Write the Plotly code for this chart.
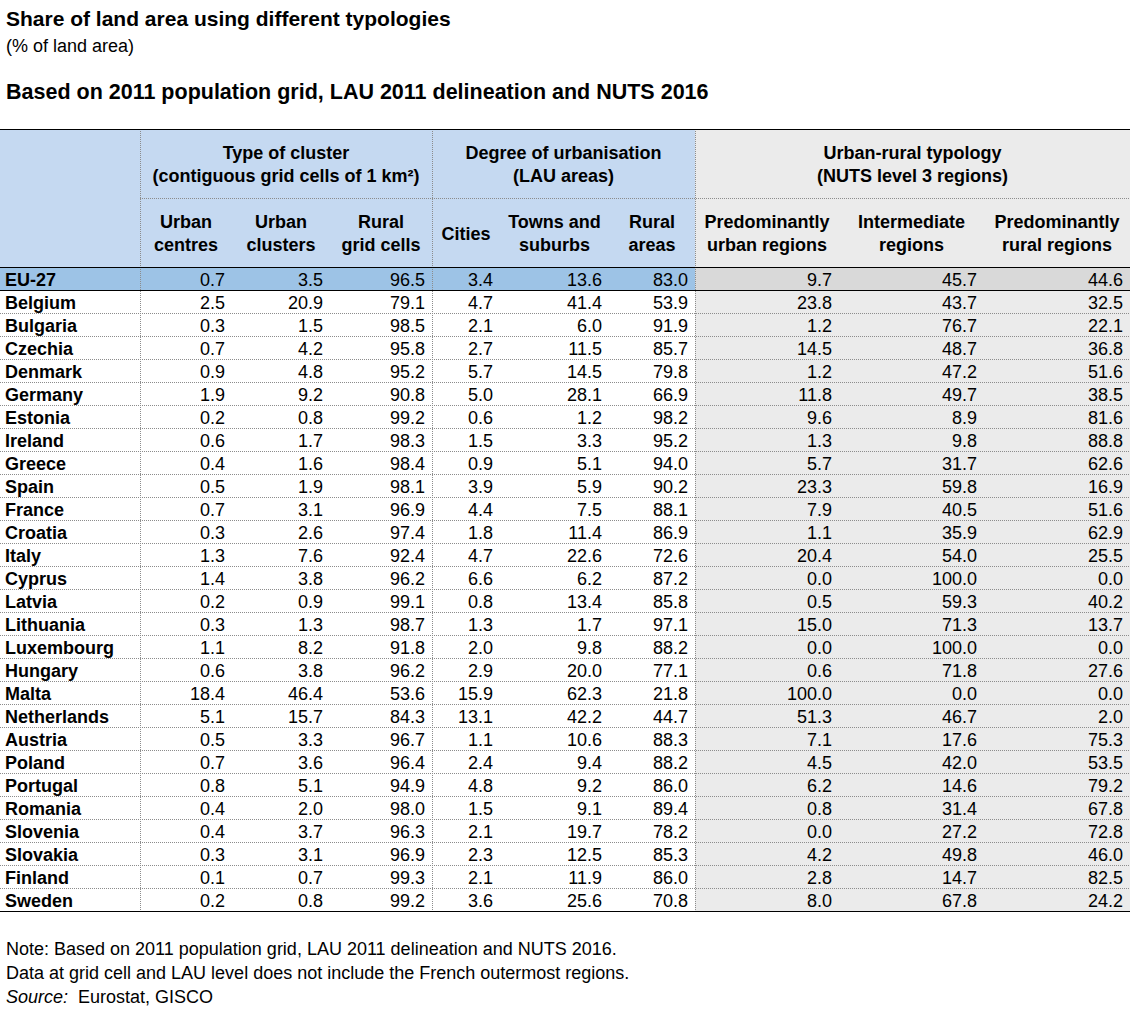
import plotly.graph_objects as go

# ---------------- data ----------------
countries = ["EU-27", "Belgium", "Bulgaria", "Czechia", "Denmark", "Germany", "Estonia",
             "Ireland", "Greece", "Spain", "France", "Croatia", "Italy", "Cyprus", "Latvia",
             "Lithuania", "Luxembourg", "Hungary", "Malta", "Netherlands", "Austria",
             "Poland", "Portugal", "Romania", "Slovenia", "Slovakia", "Finland", "Sweden"]

urban_centres = [0.7, 2.5, 0.3, 0.7, 0.9, 1.9, 0.2, 0.6, 0.4, 0.5, 0.7, 0.3, 1.3, 1.4,
                 0.2, 0.3, 1.1, 0.6, 18.4, 5.1, 0.5, 0.7, 0.8, 0.4, 0.4, 0.3, 0.1, 0.2]
urban_clusters = [3.5, 20.9, 1.5, 4.2, 4.8, 9.2, 0.8, 1.7, 1.6, 1.9, 3.1, 2.6, 7.6, 3.8,
                  0.9, 1.3, 8.2, 3.8, 46.4, 15.7, 3.3, 3.6, 5.1, 2.0, 3.7, 3.1, 0.7, 0.8]
rural_grid_cells = [96.5, 79.1, 98.5, 95.8, 95.2, 90.8, 99.2, 98.3, 98.4, 98.1, 96.9, 97.4,
                    92.4, 96.2, 99.1, 98.7, 91.8, 96.2, 53.6, 84.3, 96.7, 96.4, 94.9, 98.0,
                    96.3, 96.9, 99.3, 99.2]
cities = [3.4, 4.7, 2.1, 2.7, 5.7, 5.0, 0.6, 1.5, 0.9, 3.9, 4.4, 1.8, 4.7, 6.6, 0.8, 1.3,
          2.0, 2.9, 15.9, 13.1, 1.1, 2.4, 4.8, 1.5, 2.1, 2.3, 2.1, 3.6]
towns_suburbs = [13.6, 41.4, 6.0, 11.5, 14.5, 28.1, 1.2, 3.3, 5.1, 5.9, 7.5, 11.4, 22.6,
                 6.2, 13.4, 1.7, 9.8, 20.0, 62.3, 42.2, 10.6, 9.4, 9.2, 9.1, 19.7, 12.5,
                 11.9, 25.6]
rural_areas = [83.0, 53.9, 91.9, 85.7, 79.8, 66.9, 98.2, 95.2, 94.0, 90.2, 88.1, 86.9, 72.6,
               87.2, 85.8, 97.1, 88.2, 77.1, 21.8, 44.7, 88.3, 88.2, 86.0, 89.4, 78.2, 85.3,
               86.0, 70.8]
pred_urban = [9.7, 23.8, 1.2, 14.5, 1.2, 11.8, 9.6, 1.3, 5.7, 23.3, 7.9, 1.1, 20.4, 0.0, 0.5,
              15.0, 0.0, 0.6, 100.0, 51.3, 7.1, 4.5, 6.2, 0.8, 0.0, 4.2, 2.8, 8.0]
intermediate = [45.7, 43.7, 76.7, 48.7, 47.2, 49.7, 8.9, 9.8, 31.7, 59.8, 40.5, 35.9, 54.0,
                100.0, 59.3, 71.3, 100.0, 71.8, 0.0, 46.7, 17.6, 42.0, 14.6, 31.4, 27.2,
                49.8, 14.7, 67.8]
pred_rural = [44.6, 32.5, 22.1, 36.8, 51.6, 38.5, 81.6, 88.8, 62.6, 16.9, 51.6, 62.9, 25.5,
              0.0, 40.2, 13.7, 0.0, 27.6, 0.0, 2.0, 75.3, 53.5, 79.2, 67.8, 72.8, 46.0, 82.5,
              24.2]

group_labels = ["Type of cluster<br>(contiguous grid cells of 1 km²)",
                "Degree of urbanisation<br>(LAU areas)",
                "Urban-rural typology<br>(NUTS level 3 regions)"]
column_labels = ["Urban<br>centres", "Urban<br>clusters", "Rural<br>grid cells", "Cities",
                 "Towns and<br>suburbs", "Rural<br>areas", "Predominantly<br>urban regions",
                 "Intermediate<br>regions", "Predominantly<br>rural regions"]
columns = [urban_centres, urban_clusters, rural_grid_cells, cities, towns_suburbs,
           rural_areas, pred_urban, intermediate, pred_rural]

title = "Share of land area using different typologies"
subtitle = "(% of land area)"
heading = "Based on 2011 population grid, LAU 2011 delineation and NUTS 2016"
notes = ["Note: Based on 2011 population grid, LAU 2011 delineation and NUTS 2016.",
         "Data at grid cell and LAU level does not include the French outermost regions.",
         "<i>Source:</i>&nbsp; Eurostat, GISCO"]

# ---------------- layout constants (pixels) ----------------
W, H = 1133, 1010
FONT = "Arial, Liberation Sans, sans-serif"
BODY = 18
TXT_DY = 2.5  # vertical nudge of cell text within its row
edges = [0, 140, 232, 330, 432, 500, 609, 695, 839, 984, 1130]
group_edges = [(140, 432), (432, 695), (695, 1130)]
top_y, mid_y, head_bot = 129, 198, 267
eu_bot = 290
row_h = 23
n_body = len(countries) - 1
table_bot = eu_bot + n_body * row_h

def row_center(i):
    if i == 0:
        return (head_bot + eu_bot) / 2 + TXT_DY
    return eu_bot + (i - 1) * row_h + row_h / 2 + TXT_DY

row_y = [row_center(i) for i in range(len(countries))]

BLUE_H = "#C5D9F1"
BLUE_EU = "#9DC3E6"
GREY = "#EBEBEB"
GREY_EU = "#D9D9D9"
DOT = "#8C8C8C"

fig = go.Figure()

# country labels
fig.add_trace(go.Scatter(
    x=[5] * len(countries), y=row_y, mode="text",
    text=[f"<b>{c}</b>" for c in countries], textposition="middle right",
    textfont=dict(family=FONT, size=BODY, color="black"), hoverinfo="skip"))

# values
for j, col in enumerate(columns):
    fig.add_trace(go.Scatter(
        x=[edges[j + 2] - 7] * len(col), y=row_y, mode="text",
        text=[f"{v:.1f}" for v in col], textposition="middle left",
        textfont=dict(family=FONT, size=BODY, color="black"), hoverinfo="skip"))

# column headers
fig.add_trace(go.Scatter(
    x=[(edges[j + 1] + edges[j + 2]) / 2 for j in range(len(column_labels))],
    y=[(mid_y + head_bot) / 2 + TXT_DY] * len(column_labels), mode="text",
    text=[f"<b>{t}</b>" for t in column_labels], textposition="middle center",
    textfont=dict(family=FONT, size=BODY, color="black"), hoverinfo="skip"))

# group headers
fig.add_trace(go.Scatter(
    x=[(a + b) / 2 for a, b in group_edges], y=[(top_y + mid_y) / 2 + TXT_DY] * 3,
    mode="text",
    text=[f"<b>{t}</b>" for t in group_labels], textposition="middle center",
    textfont=dict(family=FONT, size=BODY, color="black"), hoverinfo="skip"))

shapes = []
def rect(x0, y0, x1, y1, color):
    shapes.append(dict(type="rect", xref="x", yref="y", x0=x0, y0=y0, x1=x1, y1=y1,
                       fillcolor=color, line=dict(width=0), layer="below"))

def line(x0, y0, x1, y1, color="black", dash="solid", width=1):
    shapes.append(dict(type="line", xref="x", yref="y", x0=x0, y0=y0, x1=x1, y1=y1,
                       line=dict(color=color, width=width, dash=dash), layer="above"))

rect(0, top_y, 695, head_bot, BLUE_H)
rect(695, top_y, 1130, table_bot, GREY)
rect(0, head_bot, 695, eu_bot, BLUE_EU)
rect(695, head_bot, 1130, eu_bot, GREY_EU)

# dotted row separators
for i in range(1, n_body):
    y = eu_bot + i * row_h + 0.5
    line(0, y, 1130, y, DOT, "1px,1px")
line(140, mid_y + 0.5, 1130, mid_y + 0.5, DOT, "1px,1px")
for x in (140, 432, 695):
    line(x + 0.5, top_y, x + 0.5, table_bot, DOT, "1px,1px")

# solid borders
for y in (top_y, head_bot, eu_bot, table_bot):
    line(0, y + 0.5, 1130, y + 0.5)

annotations = [
    dict(x=5, y=18, text=f"<b>{title}</b>", font=dict(size=21)),
    dict(x=5, y=46, text=subtitle, font=dict(size=18)),
    dict(x=5, y=92, text=f"<b>{heading}</b>", font=dict(size=21.5)),
]
for k, t in enumerate(notes):
    annotations.append(dict(x=5, y=949 + k * 24, text=t, font=dict(size=18)))
for a in annotations:
    a.update(xref="x", yref="y", xanchor="left", yanchor="middle", showarrow=False,
             borderpad=0)
    a["font"].update(family=FONT, color="black")

fig.update_layout(
    width=W, height=H, margin=dict(l=0, r=0, t=0, b=0),
    paper_bgcolor="white", plot_bgcolor="white", showlegend=False,
    xaxis=dict(range=[0, W], visible=False, fixedrange=True),
    yaxis=dict(range=[H, 0], visible=False, fixedrange=True),
    shapes=shapes, annotations=annotations,
)

fig.write_html("out.html", config={"displayModeBar": False},
               post_script="document.body.style.margin='0px';")
